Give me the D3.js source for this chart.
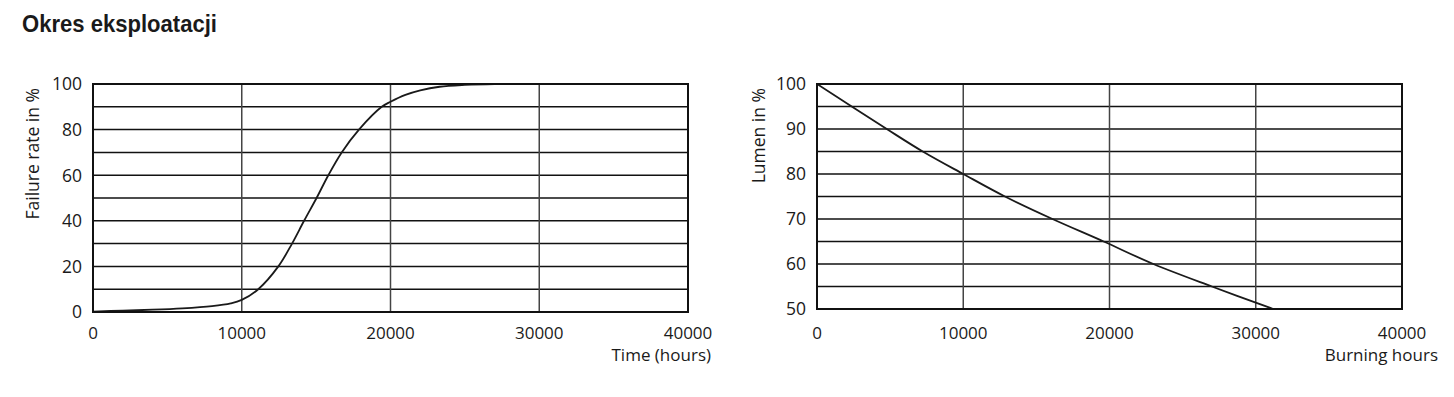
<!DOCTYPE html>
<html>
<head>
<meta charset="utf-8">
<script src="https://cdn.jsdelivr.net/npm/d3@7"></script>
<style>
  body { margin: 0; background: #fff; }
  svg { display: block; }
</style>
</head>
<body>
<svg width="1454" height="397"></svg>
<script>
// Failure rate curve (hours, %)
const failHours = [0, 2000, 4000, 6000, 8000, 9260, 10000, 11110, 12460, 13380, 14190, 15030, 15820, 16720, 17880, 19410, 20000, 21000, 22000, 23300, 25000, 27000, 30000, 40000];
const failRate  = [0.2, 0.6, 1.0, 1.6, 2.6, 3.8, 5.3, 10, 20, 30, 40, 50, 60, 70, 80, 90, 92.2, 95.2, 97.2, 98.8, 99.6, 100, 100, 100];

// Lumen maintenance curve (hours, %)
const lumenHours = [0, 4770, 7230, 10000, 12850, 16100, 19600, 23000, 27000, 31200];
const lumenValue = [100, 90, 85, 80, 75, 70, 65, 60, 55, 50];

const xTicks = [0, 10000, 20000, 30000, 40000];
const failTicks = [0, 20, 40, 60, 80, 100];
const lumenTicks = [50, 60, 70, 80, 90, 100];

const svg = d3.select('svg');
const labelFont = '"Open Sans", sans-serif';

// Title
svg.append('text')
    .attr('x', 22)
    .attr('y', 32)
    .attr('textLength', 195)
    .attr('lengthAdjust', 'spacingAndGlyphs')
    .style('font-family', '"Liberation Sans", Arial, sans-serif')
    .style('font-weight', 'bold')
    .style('font-size', '24px')
    .style('fill', '#1a1a1a')
    .text('Okres eksploatacji');

function drawPanel(opt) {
    const x = d3.scaleLinear().domain([0, 40000]).range([opt.left, opt.right]);
    const y = d3.scaleLinear().domain(opt.yDomain).range([opt.bottom, opt.top]);
    const g = svg.append('g');

    // horizontal grid (every half tick)
    const minor = d3.range(opt.yDomain[0], opt.yDomain[1] + 0.001, opt.minorStep);
    g.selectAll('.hgrid').data(minor).join('line')
        .attr('x1', opt.left).attr('x2', opt.right)
        .attr('y1', d => y(d)).attr('y2', d => y(d))
        .style('stroke', '#111').style('stroke-width', 1.5);

    // vertical grid
    g.selectAll('.vgrid').data(xTicks.slice(1, -1)).join('line')
        .attr('x1', d => x(d)).attr('x2', d => x(d))
        .attr('y1', opt.top).attr('y2', opt.bottom)
        .style('stroke', '#444').style('stroke-width', 1.5);

    // curve, clipped to plot
    const clipId = 'clip' + opt.left;
    svg.append('clipPath').attr('id', clipId).append('rect')
        .attr('x', opt.left).attr('y', opt.top - 2)
        .attr('width', opt.right - opt.left).attr('height', opt.bottom - opt.top + 2);
    const pts = opt.xs.map((v, i) => [v, opt.ys[i]]);
    g.append('path')
        .datum(pts)
        .attr('clip-path', 'url(#' + clipId + ')')
        .attr('d', d3.line().x(d => x(d[0])).y(d => y(d[1])).curve(d3.curveCatmullRom.alpha(0.5)))
        .style('fill', 'none').style('stroke', '#1a1a1a').style('stroke-width', 1.8);

    // frame
    g.append('rect')
        .attr('x', opt.left).attr('y', opt.top)
        .attr('width', opt.right - opt.left).attr('height', opt.bottom - opt.top)
        .style('fill', 'none').style('stroke', '#111').style('stroke-width', 2);

    // y tick labels
    g.selectAll('.ylab').data(opt.yTicks).join('text')
        .attr('x', opt.left - 11)
        .attr('y', d => y(d))
        .attr('dy', '0.36em')
        .attr('text-anchor', 'end')
        .style('font-family', labelFont).style('font-size', '17.5px').style('fill', '#1a1a1a')
        .text(d => d);

    // x tick labels
    g.selectAll('.xlab').data(xTicks).join('text')
        .attr('x', d => x(d))
        .attr('y', 338.5)
        .attr('text-anchor', 'middle')
        .style('font-family', labelFont).style('font-size', '17px').style('fill', '#1a1a1a')
        .text(d => d);

    // axis titles
    g.append('text')
        .attr('x', opt.xTitleEnd).attr('y', 361)
        .attr('text-anchor', 'end')
        .style('font-family', labelFont).style('font-size', '17px').style('fill', '#1a1a1a')
        .text(opt.xTitle);

    g.append('text')
        .attr('transform', 'translate(' + opt.yTitleX + ',' + 88 + ') rotate(-90)')
        .attr('text-anchor', 'end')
        .style('font-family', labelFont).style('font-size', '17.5px').style('fill', '#1a1a1a')
        .text(opt.yTitle);
}

drawPanel({
    left: 93, right: 688, top: 84, bottom: 312,
    yDomain: [0, 100], minorStep: 10, yTicks: failTicks,
    xs: failHours, ys: failRate,
    xTitle: 'Time (hours)', xTitleEnd: 711,
    yTitle: 'Failure rate in %', yTitleX: 39
});

drawPanel({
    left: 817, right: 1402, top: 84, bottom: 309,
    yDomain: [50, 100], minorStep: 5, yTicks: lumenTicks,
    xs: lumenHours, ys: lumenValue,
    xTitle: 'Burning hours', xTitleEnd: 1438,
    yTitle: 'Lumen in %', yTitleX: 765
});
</script>
</body>
</html>
